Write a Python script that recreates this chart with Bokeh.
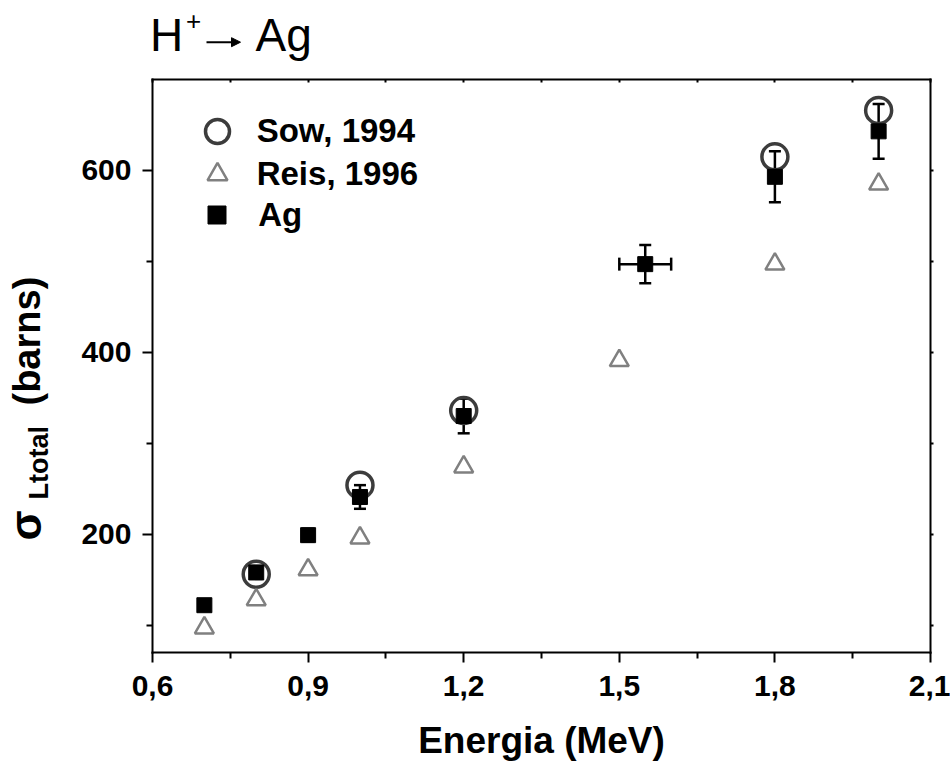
import math
from bokeh.plotting import figure
from bokeh.models import (ColumnDataSource, Whisker, TeeHead, FixedTicker, LinearAxis,
                          Range1d, Label, Arrow, NormalHead, Legend, LegendItem)
from bokeh.embed import file_html
from bokeh.resources import INLINE

# ---------------- data ----------------
energy_ag = [0.7, 0.8, 0.9, 1.0, 1.2, 1.55, 1.8, 2.0]
sigma_ag = [122, 158, 199, 241, 330, 497, 593, 643]
sigma_ag_err = [6, 7, 7, 13, 19, 21, 28, 30]
energy_ag_err = [0, 0, 0, 0, 0, 0.05, 0, 0]

energy_sow = [0.8, 1.0, 1.2, 1.8, 2.0]
sigma_sow = [156, 254, 336, 615, 666]

energy_reis = [0.7, 0.8, 0.9, 1.0, 1.2, 1.5, 1.8, 2.0]
sigma_reis = [97, 128, 161, 196, 274, 391, 497, 585]

x_ticks = [0.6, 0.9, 1.2, 1.5, 1.8, 2.1]
x_tick_labels = ["0,6", "0,9", "1,2", "1,5", "1,8", "2,1"]
x_minor = [0.75, 1.05, 1.35, 1.65, 1.95]
y_ticks = [200, 400, 600]
y_tick_labels = ["200", "400", "600"]
y_minor = [100, 300, 500]

legend_labels = ["Sow, 1994", "Reis, 1996", "Ag"]
x_title = "Energia (MeV)"

FONT = "Liberation Sans"

# ---------------- layout geometry (canvas px) ----------------
W, H = 950, 767
PL, PR, PT, PB = 152, 930, 79, 652        # plot box
x_lo, x_hi = 0.6, 2.1
y_lo, y_hi = 70, 700
kx = (PR - PL) / (x_hi - x_lo)
ky = (PB - PT) / (y_hi - y_lo)
x_range = Range1d(x_lo - PL / kx, x_hi + (W - PR) / kx)
y_range = Range1d(y_lo - (H - PB) / ky, y_hi + PT / ky)

BASE_SHIFT = 0.41   # em offset between Label anchor and drawn baseline

p = figure(width=W, height=H, x_range=x_range, y_range=y_range,
           output_backend="svg", toolbar_location=None, min_border=0,
           background_fill_color="white", border_fill_color="white")
p.title.visible = False
p.grid.visible = False
p.outline_line_color = None

def style_axis(ax):
    ax.axis_line_width = 2
    ax.axis_line_color = "black"
    ax.axis_line_cap = "square"
    ax.major_tick_line_width = 2
    ax.minor_tick_line_width = 2
    ax.major_tick_line_color = "black"
    ax.minor_tick_line_color = "black"
    ax.major_label_text_font = FONT
    ax.major_label_text_font_style = "bold"
    ax.major_label_text_font_size = "30px"
    ax.major_label_text_color = "black"

xa = p.xaxis[0]
xa.ticker = FixedTicker(ticks=x_ticks, minor_ticks=x_minor)
xa.major_label_overrides = {t: l for t, l in zip(x_ticks, x_tick_labels)}
xa.fixed_location = y_lo
xa.bounds = (x_lo, x_hi)
style_axis(xa)
xa.major_tick_out = 10
xa.major_tick_in = 0
xa.minor_tick_out = 6
xa.minor_tick_in = 0
xa.major_label_standoff = 13

ya = p.yaxis[0]
ya.ticker = FixedTicker(ticks=y_ticks, minor_ticks=y_minor)
ya.major_label_overrides = {t: l for t, l in zip(y_ticks, y_tick_labels)}
ya.fixed_location = x_lo
ya.bounds = (y_lo, y_hi)
style_axis(ya)
ya.major_tick_out = 10
ya.major_tick_in = 0
ya.minor_tick_out = 6
ya.minor_tick_in = 0
ya.major_label_standoff = 11

top = LinearAxis(ticker=FixedTicker(ticks=x_ticks, minor_ticks=x_minor),
                 fixed_location=y_hi, bounds=(x_lo, x_hi))
style_axis(top)
top.major_label_text_font_size = "0px"
top.major_label_text_alpha = 0
top.major_label_standoff = 0
top.major_tick_in = 3
top.major_tick_out = 0
top.minor_tick_in = 3
top.minor_tick_out = 0
p.add_layout(top, "above")

right = LinearAxis(ticker=FixedTicker(ticks=y_ticks, minor_ticks=y_minor),
                   fixed_location=x_hi, bounds=(y_lo, y_hi))
style_axis(right)
right.major_label_text_font_size = "0px"
right.major_label_text_alpha = 0
right.major_label_standoff = 0
right.major_tick_in = 0
right.major_tick_out = 3
right.minor_tick_in = 0
right.minor_tick_out = 3
p.add_layout(right, "right")

# ---------------- glyphs ----------------
src_sow = ColumnDataSource(dict(x=energy_sow, y=sigma_sow))
src_reis = ColumnDataSource(dict(x=energy_reis, y=sigma_reis))
src_ag = ColumnDataSource(dict(
    x=energy_ag, y=sigma_ag,
    upper=[v + e for v, e in zip(sigma_ag, sigma_ag_err)],
    lower=[v - e for v, e in zip(sigma_ag, sigma_ag_err)],
))
xe_idx = [i for i, e in enumerate(energy_ag_err) if e > 0]
src_agx = ColumnDataSource(dict(
    y=[sigma_ag[i] for i in xe_idx],
    left=[energy_ag[i] - energy_ag_err[i] for i in xe_idx],
    right=[energy_ag[i] + energy_ag_err[i] for i in xe_idx],
))

wy = Whisker(base="x", upper="upper", lower="lower", source=src_ag, dimension="height",
             line_width=2.5, line_color="black",
             upper_head=TeeHead(size=12, line_width=2.5, line_color="black"),
             lower_head=TeeHead(size=12, line_width=2.5, line_color="black"))
wx = Whisker(base="y", upper="right", lower="left", source=src_agx, dimension="width",
             line_width=2.5, line_color="black",
             upper_head=TeeHead(size=13, line_width=2.5, line_color="black"),
             lower_head=TeeHead(size=13, line_width=2.5, line_color="black"))
p.add_layout(wy)
p.add_layout(wx)

r_sow = p.scatter("x", "y", source=src_sow, marker="circle", size=26, fill_color=None,
                  line_color="#3c3c3c", line_width=3.5)
r_reis = p.scatter("x", "y", source=src_reis, marker="triangle", size=19, fill_color=None,
                   line_color="#808080", line_width=2.5)
r_ag = p.scatter("x", "y", source=src_ag, marker="square", size=15, fill_color="black",
                 line_color="black", line_width=1)

# ---------------- legends ----------------
def make_legend(label, renderer, glyph, standoff, loc):
    leg = Legend(items=[LegendItem(label=label, renderers=[renderer])], location=loc,
                 glyph_width=glyph, glyph_height=glyph, label_standoff=standoff,
                 padding=0, margin=0, spacing=0,
                 border_line_color=None, background_fill_alpha=0,
                 label_text_font=FONT, label_text_font_style="bold",
                 label_text_font_size="33px", label_text_color="black")
    p.add_layout(leg)

make_legend(legend_labels[0], r_sow, 60, 10, (186.7, 605.7))
make_legend(legend_labels[1], r_reis, 50, 15, (191.7, 567.8))
make_legend(legend_labels[2], r_ag, 45, 19, (194.2, 530.0))

# ---------------- free texts (positioned by canvas baseline) ----------------
def text_at(txt, bx, by, size, bold=False, align="left", vertical=False):
    shift = BASE_SHIFT * size
    if vertical:
        x, y, angle = bx - shift, H - by, math.pi / 2
    else:
        x, y, angle = bx, H - by + shift, 0.0
    p.add_layout(Label(x=x, y=y, x_units="screen", y_units="screen", text=txt, angle=angle,
                       text_font=FONT, text_font_size=f"{size}px",
                       text_font_style="bold" if bold else "normal",
                       text_color="black", text_align=align, text_baseline="alphabetic"))

# title: H+ -> Ag
text_at("H", 149.4, 53, 46)
text_at("+", 185.5, 31.5, 26)
p.add_layout(Arrow(x_start=206, y_start=H - 41.7, x_end=240, y_end=H - 41.7,
                   start_units="screen", end_units="screen", line_width=2, line_color="black",
                   start=None,
                   end=NormalHead(size=9, fill_color="black", line_color="black", line_width=1)))
text_at("Ag", 255, 53, 46)

# axis titles
text_at(x_title, 541, 755, 37, bold=True, align="center")
text_at("σ", 43, 540, 44, bold=True, vertical=True)
text_at("Ltotal", 50, 499, 27, bold=True, vertical=True)
text_at("(barns)", 42, 405, 38, bold=True, vertical=True)

open("out.html", "w").write(file_html(p, INLINE))
